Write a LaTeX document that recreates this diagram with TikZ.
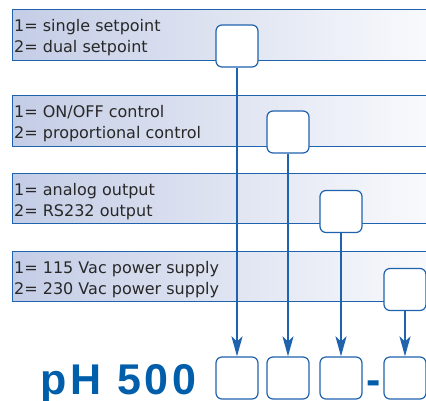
\documentclass[tikz,border=0pt]{standalone}
\usepackage{xcolor}
\usepackage{fontspec}
\setmainfont{DejaVu Sans}
\newfontfamily\codefont[LetterSpace=9]{Liberation Sans}
\usepackage{tikz}
\usetikzlibrary{arrows.meta}
\usetikzlibrary{positioning}
\definecolor{lineblue}{RGB}{31,99,174}
\definecolor{codeblue}{RGB}{0,94,170}
\definecolor{bandleft}{RGB}{196,205,230}
\definecolor{bandright}{RGB}{250,251,253}
\definecolor{textgray}{RGB}{40,40,40}
\tikzstyle{band} = [rectangle, 
minimum width=428pt, 
minimum height=51pt, 
anchor=north west, 
draw=lineblue, 
line width=1.2pt, 
left color=bandleft, 
right color=bandright]
\tikzstyle{choice} = [rectangle, rounded corners=6pt, 
minimum width=42pt, 
minimum height=42pt, 
draw=lineblue, 
line width=1.2pt, 
fill=white]
\tikzstyle{option} = [anchor=north west, 
inner sep=0pt, 
align=left, 
text=textgray, 
font=\fontsize{16}{21}\selectfont]
\tikzstyle{code} = [inner sep=0pt, 
text depth=0pt, 
text=codeblue, 
font=\fontsize{43}{43}\selectfont\bfseries\codefont]
\tikzstyle{arrow} = [draw=lineblue, line width=1.8pt, 
-{Stealth[length=20pt, width=11pt, inset=5pt]}]

\begin{document}
\begin{tikzpicture}[x=1pt, y=-1pt]
        \useasboundingbox (0,0) rectangle (426,401);

        % option bands
        \node (band1) [band] at (12,9) {};
        \node (band2) [band] at (12,95) {};
        \node (band3) [band, minimum height=50pt] at (12,173) {};
        \node (band4) [band, minimum height=50pt] at (12,251) {};

        \node (opt1) [option] at (14,19) 
        {1= single setpoint\\2= dual setpoint};
        \node (opt2) [option] at (14,105) 
        {1= ON/OFF control\\2= proportional control};
        \node (opt3) [option] at (14,183) 
        {1= analog output\\2= RS232 output};
        \node (opt4) [option] at (14,261) 
        {1= 115 Vac power supply\\2= 230 Vac power supply};

        % choice boxes
        \node (c1) [choice] at (237,46) {};
        \node (c2) [choice] at (288,132) {};
        \node (c3) [choice] at (341,211.5) {};
        \node (c4) [choice] at (405,289.5) {};

        % order code
        \node (s1) [choice] at (237,378) {};
        \node (s2) [choice] at (288,378) {};
        \node (s3) [choice] at (341,378) {};
        \node (s4) [choice] at (405,378) {};
        \node (model) [code, anchor=base west] at (40,394) {pH 500};
        \node (dash) [code, anchor=base] at (373.5,394) {-};

        \draw [arrow] (c1) -- (s1);
        \draw [arrow] (c2) -- (s2);
        \draw [arrow] (c3) -- (s3);
        \draw [arrow] (c4) -- (s4);

\end{tikzpicture}
\end{document}
